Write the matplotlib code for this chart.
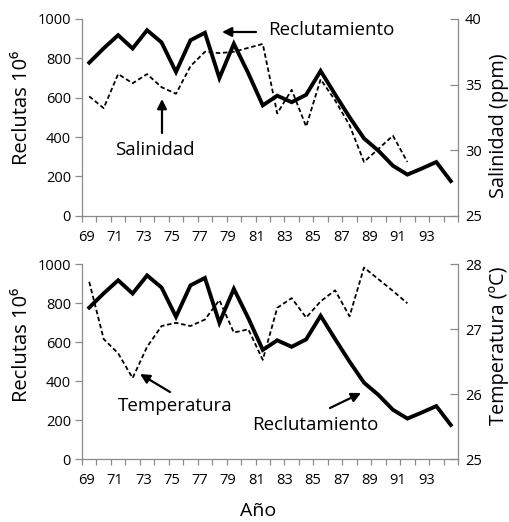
import numpy as np
import matplotlib
matplotlib.use("Agg")
import matplotlib.pyplot as plt

plt.rcParams['font.family'] = ['Open Sans', 'DejaVu Sans']

# ---------------- data ----------------
years = list(range(1969, 1995))
reclutamiento = [778, 851, 918, 850, 943, 881, 731, 892, 930, 700, 874, 724,
                 561, 610, 577, 615, 736, 617, 501, 393, 330, 254, 209, 240, 273, 176]
sal_years = list(range(1969, 1992))
salinidad = [34.1, 33.2, 35.8, 35.1, 35.8, 34.8, 34.3, 36.4, 37.5, 37.4, 37.5, 37.8,
             38.1, 32.8, 34.6, 31.8, 35.4, 33.8, 31.9, 29.1, 30.1, 31.1, 29.1]
temp_years = list(range(1969, 1992))
temperatura = [27.73, 26.85, 26.63, 26.25, 26.73, 27.05, 27.10, 27.05, 27.15, 27.45,
               26.95, 27.0, 26.53, 27.33, 27.48, 27.18, 27.43, 27.6, 27.2, 27.95,
               27.77, 27.59, 27.4]
xlabels = ['69', '71', '73', '75', '77', '79', '81', '83', '85', '87', '89', '91', '93']
left_ticks = [0, 200, 400, 600, 800, 1000]
sal_ticks = [25, 30, 35, 40]
temp_ticks = [25, 26, 27, 28]

# ---------------- layout ----------------
W, H = 510, 522
fig = plt.figure(figsize=(W / 100, H / 100), dpi=100)
AX_L, AX_R = 82, 458
top_box = (19.0, 215.7)
bot_box = (264.3, 459.3)

GRAY = '#8a8a8a'
n = len(years)
x_rec = np.arange(n)
x_sal = np.array([years.index(y) for y in sal_years])
x_tmp = np.array([years.index(y) for y in temp_years])

px_per = (AX_R - AX_L) / n
def px2x(px):
    return (px - AX_L) / px_per - 0.5

# label positions (as in reference, slightly compressed)
lab_pos = [px2x(86.7 + (int(l) - 69) * 14.15) for l in xlabels]


def make_axes(box):
    t, b = box
    ax = fig.add_axes([AX_L / W, 1 - b / H, (AX_R - AX_L) / W, (b - t) / H])
    ax.set_xlim(-0.5, n - 0.5)
    ax.set_ylim(0, 1000)
    ax.set_yticks(left_ticks)
    ax.set_yticklabels([str(v) for v in left_ticks])
    ax.spines['top'].set_visible(False)
    ax.spines['right'].set_visible(False)
    for s in ('left', 'bottom'):
        ax.spines[s].set_color(GRAY)
        ax.spines[s].set_linewidth(0.9)
    ax.set_xticks(lab_pos)
    ax.set_xticklabels(xlabels)
    ax.set_xticks(np.arange(-0.5, n, 1.0), minor=True)
    ax.tick_params(axis='x', which='major', length=0, pad=10, labelsize=10.5)
    ax.tick_params(axis='x', which='minor', length=4, width=0.9, color=GRAY, direction='out')
    ax.tick_params(axis='y', which='major', length=5, width=0.9, color=GRAY,
                   direction='out', pad=3, labelsize=10.5)
    return ax


def make_twin(ax, lim, ticks):
    tw = ax.twinx()
    tw.set_ylim(*lim)
    tw.set_yticks(ticks)
    tw.set_yticklabels([str(v) for v in ticks])
    for s in ('top', 'left', 'bottom'):
        tw.spines[s].set_visible(False)
    tw.spines['right'].set_color(GRAY)
    tw.spines['right'].set_linewidth(0.9)
    tw.tick_params(axis='y', length=6, width=0.9, color=GRAY, direction='in',
                   pad=5, labelsize=10.5)
    return tw


def py2y(py, box):
    t, b = box
    return (b - py) / (b - t) * 1000


rec_kw = dict(color='black', lw=2.8, solid_joinstyle='miter', zorder=3)
dash_kw = dict(color='black', lw=1.3, dashes=(2.5, 1.5), zorder=2)
arrow_kw = dict(arrowstyle='-|>', color='black', lw=1.6, mutation_scale=14,
                shrinkA=0, shrinkB=0)
ann_fs = 13.5

# ---------- top panel ----------
ax1 = make_axes(top_box)
tw1 = make_twin(ax1, (25, 40), sal_ticks)
tw1.plot(x_sal, salinidad, **dash_kw)
ax1.plot(x_rec, reclutamiento, **rec_kw)
ax1.set_zorder(tw1.get_zorder() + 1)
ax1.patch.set_visible(False)

ax1.text(px2x(268), py2y(30, top_box), 'Reclutamiento', fontsize=ann_fs,
         ha='left', va='center')
ax1.annotate('', xy=(px2x(222), py2y(32, top_box)),
             xytext=(px2x(256), py2y(32, top_box)), arrowprops=arrow_kw)
ax1.text(px2x(115), py2y(150, top_box), 'Salinidad', fontsize=ann_fs,
         ha='left', va='center')
ax1.annotate('', xy=(px2x(162), py2y(99, top_box)),
             xytext=(px2x(162), py2y(133, top_box)), arrowprops=arrow_kw)

# ---------- bottom panel ----------
ax2 = make_axes(bot_box)
tw2 = make_twin(ax2, (25, 28), temp_ticks)
tw2.plot(x_tmp, temperatura, **dash_kw)
ax2.plot(x_rec, reclutamiento, **rec_kw)
ax2.set_zorder(tw2.get_zorder() + 1)
ax2.patch.set_visible(False)

ax2.text(px2x(118), py2y(406, bot_box), 'Temperatura', fontsize=ann_fs,
         ha='left', va='center')
ax2.annotate('', xy=(px2x(140), py2y(374, bot_box)),
             xytext=(px2x(170), py2y(392, bot_box)), arrowprops=arrow_kw)
ax2.text(px2x(252), py2y(425, bot_box), 'Reclutamiento', fontsize=ann_fs,
         ha='left', va='center')
ax2.annotate('', xy=(px2x(361), py2y(393, bot_box)),
             xytext=(px2x(330), py2y(408, bot_box)), arrowprops=arrow_kw)

# ---------- axis titles ----------
def ftext(px, py, s, **kw):
    fig.text(px / W, 1 - py / H, s, ha='center', va='center', **kw)

ftext(22, 108, 'Reclutas 10⁶', rotation=90, fontsize=14.5)
ftext(22, 345, 'Reclutas 10⁶', rotation=90, fontsize=14.5)
ftext(499, 126, 'Salinidad (ppm)', rotation=90, fontsize=14.3)
ftext(499, 346, 'Temperatura (ºC)', rotation=90, fontsize=14.3)
ftext(258, 511, 'Año', fontsize=14)

fig.savefig('out.png', dpi=100)
